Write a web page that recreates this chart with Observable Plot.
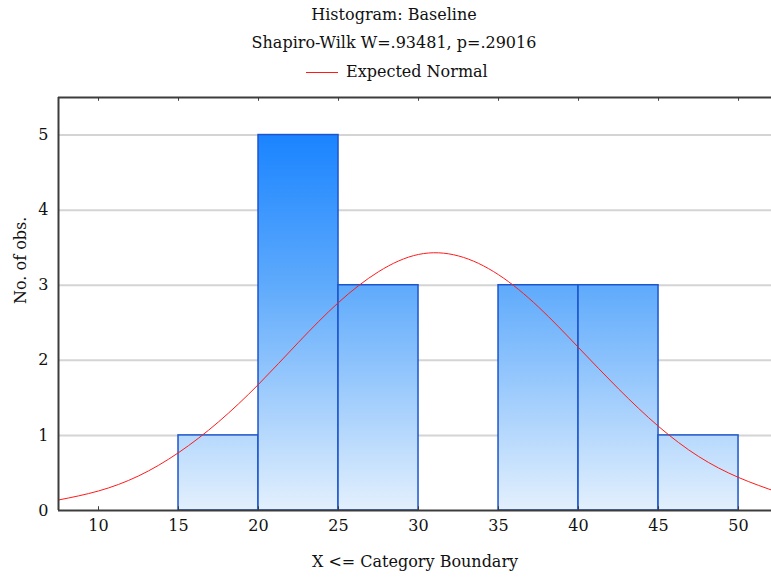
<!DOCTYPE html>
<html><head><meta charset="utf-8">
<script src="https://cdn.jsdelivr.net/npm/d3@7"></script>
<script src="https://cdn.jsdelivr.net/npm/@observablehq/plot@0.6"></script>
<style>
body{margin:0;background:#fff;font-family:"DejaVu Serif",serif;}
#wrap{position:relative;width:771px;}
#head{position:relative;height:88px;font-size:16px;line-height:18px;color:#111;}
.t{position:absolute;left:0;width:788px;text-align:center;white-space:nowrap;}
#leg{position:absolute;top:63px;left:306px;white-space:nowrap;}
#leg span.l{display:inline-block;width:32px;height:0;border-top:1px solid #ff1a1a;vertical-align:middle;margin-right:8px;}
</style></head>
<body><div id="wrap">
<div id="head">
<div class="t" style="top:6px">Histogram: Baseline</div>
<div class="t" style="top:34px">Shapiro-Wilk W=.93481, p=.29016</div>
<div id="leg"><span class="l"></span>Expected Normal</div>
</div>
<div id="chart"></div>
</div>
<script>
// bins (lower, upper) and counts
const binLow  = [15, 20, 25, 30, 35, 40, 45];
const binHigh = [20, 25, 30, 35, 40, 45, 50];
const counts  = [1, 5, 3, 0, 3, 3, 1];
// expected normal curve
const curveX = [7.5, 10, 12.5, 15, 17.5, 20, 22.5, 25, 27.5, 30, 32.5, 35, 37.5, 40, 42.5, 45, 47.5, 50, 52.5];
const curveY = [0.14, 0.26, 0.46, 0.77, 1.18, 1.68, 2.24, 2.77, 3.18, 3.41, 3.39, 3.14, 2.71, 2.17, 1.62, 1.12, 0.72, 0.44, 0.24];
const xTicks = [10, 15, 20, 25, 30, 35, 40, 45, 50];
const yTicks = [0, 1, 2, 3, 4, 5];

const bins = binLow.map((lo, i) => ({x1: lo, x2: binHigh[i], y: counts[i]})).filter(d => d.y > 0);
const curve = curveX.map((x, i) => ({x, y: curveY[i]}));

const defs = (index, scales) => {
  const y5 = scales.y(5), y0 = scales.y(0);
  const svg = d3.create("svg:defs");
  const g = svg.append("linearGradient").attr("id", "barGrad")
    .attr("gradientUnits", "userSpaceOnUse")
    .attr("x1", 0).attr("x2", 0).attr("y1", y5).attr("y2", y0);
  g.append("stop").attr("offset", "0%").attr("stop-color", "#1a84ff");
  g.append("stop").attr("offset", "40%").attr("stop-color", "#5eaafc");
  g.append("stop").attr("offset", "100%").attr("stop-color", "#e3f0fd");
  return svg.node();
};

const chart = Plot.plot({
  width: 771,
  height: 490,
  marginTop: 9,
  marginBottom: 68,
  marginLeft: 58,
  marginRight: 0,
  style: {fontFamily: "DejaVu Serif, serif", fontSize: "16px", color: "#111", background: "#fff"},
  x: {domain: [7.5, 52.06]},
  y: {domain: [0, 5.5]},
  marks: [
    defs,
    Plot.gridY(yTicks.filter(d => d > 0), {stroke: "#d4d4d4", strokeOpacity: 1, strokeWidth: 2}),
    Plot.rectY(bins, {x1: "x1", x2: "x2", y: "y", fill: "url(#barGrad)", stroke: "#1d55cc", strokeWidth: 1.5}),
    Plot.line(curve, {x: "x", y: "y", stroke: "#ff1a1a", strokeWidth: 1, curve: "natural"}),
    Plot.ruleY([0], {stroke: "#3c3c3c", strokeWidth: 2}),
    Plot.ruleY([5.5], {stroke: "#3c3c3c", strokeWidth: 2}),
    Plot.ruleX([7.5], {stroke: "#3c3c3c", strokeWidth: 2}),
    Plot.ruleX(xTicks, {y1: 0, y2: 0.05, stroke: "#3c3c3c"}),
    Plot.ruleX(xTicks, {y1: 5.45, y2: 5.5, stroke: "#3c3c3c"}),
    Plot.axisX(xTicks, {tickSize: 0, tickPadding: 9, fontSize: 16, tickFormat: "d"}),
    Plot.axisY(yTicks, {tickSize: 0, tickPadding: 10, fontSize: 16, tickFormat: "d", label: null}),
    Plot.text(["X <= Category Boundary"], {frameAnchor: "bottom", dy: 56, fontSize: 16}),
    Plot.text(["No. of obs."], {frameAnchor: "left", dx: -38, rotate: -90, fontSize: 16})
  ]
});
document.getElementById("chart").appendChild(chart);
</script>
</body></html>
